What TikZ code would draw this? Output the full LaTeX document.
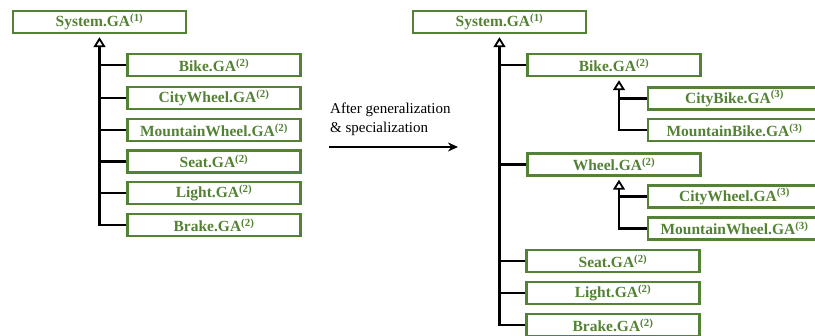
\documentclass[tikz,border=0pt]{standalone}
\usepackage{fontspec}
\setmainfont{Liberation Serif}
\usepackage{xcolor}
\usepackage{tikz}
\usetikzlibrary{arrows.meta}
\definecolor{leaf}{HTML}{548235}
\tikzset{
  ga/.style={draw=leaf, text=leaf, line width=2.4pt, minimum width=173pt, minimum height=22pt, inner sep=0pt, font=\bfseries\fontsize{15.5}{18}\selectfont},
  tie/.style={draw=black, line width=2.1pt},
  gen/.style={tie, -{Triangle[open, width=12pt, length=10pt, line width=1.8pt]}, shorten >=3pt},
  flow/.style={draw=black, line width=2.2pt, -{Stealth[length=10pt, width=9pt]}},
  note/.style={font=\fontsize{15}{19}\selectfont, align=left, anchor=west, inner sep=0pt},
}

\begin{document}
\begin{tikzpicture}[x=1pt, y=-1pt]
  \useasboundingbox (0,0) rectangle (815,336);
  % before
  \node[ga] (lsys)   at (99.5,22)  {System.GA\textsuperscript{(1)}};
  \node[ga] (lbike)  at (214,65)   {Bike.GA\textsuperscript{(2)}};
  \node[ga] (lcity)  at (214,98)   {CityWheel.GA\textsuperscript{(2)}};
  \node[ga] (lmount) at (214,130)  {MountainWheel.GA\textsuperscript{(2)}};
  \node[ga] (lseat)  at (214,161.5){Seat.GA\textsuperscript{(2)}};
  \node[ga] (llight) at (214,193)  {Light.GA\textsuperscript{(2)}};
  \node[ga] (lbrake) at (214,225)  {Brake.GA\textsuperscript{(2)}};
  \draw[gen] (lbrake.west) -| (lsys.south);
  \foreach \n in {lbike,lcity,lmount,lseat,llight}
    \draw[tie] (\n.west) -- (\n.west -| lsys.south);

  % transition
  \node[note] (note) at (330,119.5) {After generalization\\\& specialization};
  \coordinate (from) at (329,147);
  \coordinate (to)   at (458,147);
  \draw[flow] (from) -- (to);

  % after
  \node[ga] (rsys)    at (499.5,22)  {System.GA\textsuperscript{(1)}};
  \node[ga] (rbike)   at (614,65)    {Bike.GA\textsuperscript{(2)}};
  \node[ga] (rcbike)  at (734.5,98.5){CityBike.GA\textsuperscript{(3)}};
  \node[ga] (rmbike)  at (734.5,130) {MountainBike.GA\textsuperscript{(3)}};
  \node[ga] (rwheel)  at (614,164.5) {Wheel.GA\textsuperscript{(2)}};
  \node[ga] (rcwheel) at (734.5,196.5){CityWheel.GA\textsuperscript{(3)}};
  \node[ga] (rmwheel) at (734.5,228.5){MountainWheel.GA\textsuperscript{(3)}};
  \node[ga] (rseat)   at (613,261)   {Seat.GA\textsuperscript{(2)}};
  \node[ga] (rlight)  at (613,293)   {Light.GA\textsuperscript{(2)}};
  \node[ga] (rbrake)  at (613,325)   {Brake.GA\textsuperscript{(2)}};
  \coordinate (bikefoot)  at ([xshift=5pt]rbike.south);
  \coordinate (wheelfoot) at ([xshift=5pt]rwheel.south);
  \draw[gen] (rbrake.west) -| (rsys.south);
  \foreach \n in {rbike,rwheel,rseat,rlight}
    \draw[tie] (\n.west) -- (\n.west -| rsys.south);
  \draw[gen] (rmbike.west) -| (bikefoot);
  \draw[tie] (rcbike.west) -- (rcbike.west -| bikefoot);
  \draw[gen] (rmwheel.west) -| (wheelfoot);
  \draw[tie] (rcwheel.west) -- (rcwheel.west -| wheelfoot);
\end{tikzpicture}
\end{document}
